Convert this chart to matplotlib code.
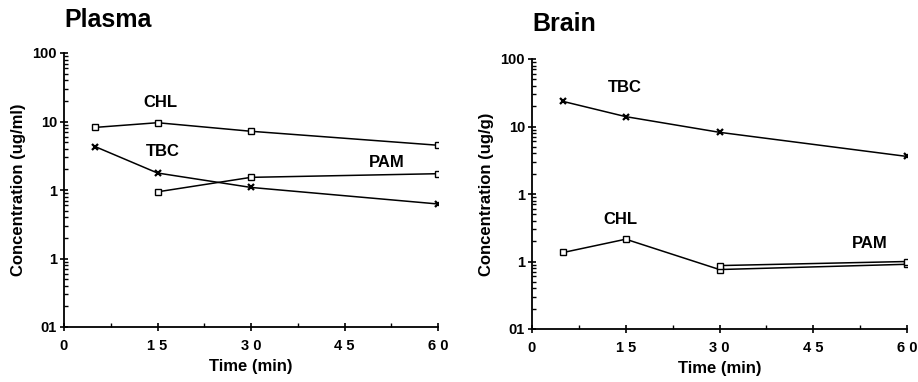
import matplotlib
matplotlib.use("Agg")
import matplotlib.pyplot as plt
from matplotlib.ticker import LogLocator, FixedLocator, NullFormatter

plt.rcParams['font.family'] = ['Liberation Sans', 'DejaVu Sans']
plt.rcParams['font.weight'] = 'bold'

# time points (min)
t_chl = [5, 15, 30, 60]
t_tbc = [5, 15, 30, 60]
t_pam_plasma = [15, 30, 60]
t_pam_brain = [30, 60]

# plasma concentrations (ug/ml)
plasma_chl = [8.2, 9.6, 7.2, 4.5]
plasma_tbc = [4.3, 1.77, 1.09, 0.625]
plasma_pam = [0.94, 1.53, 1.73]

# brain concentrations (ug/g)
brain_tbc = [23.5, 14.0, 8.2, 3.6]
brain_chl = [0.136, 0.214, 0.076, 0.091]
brain_pam = [0.087, 0.100]

ytick_vals = [0.01, 0.1, 1, 10, 100]
ytick_text = ["01", "1", "1", "10", "100"]
xtick_vals = [0, 15, 30, 45, 60]
xtick_text = ["0", "1 5", "3 0", "4 5", "6 0"]

fig = plt.figure(figsize=(9.18, 3.82), dpi=100)
W, H = 918.0, 382.0

def make_axes(left, right, top, bottom):
    return fig.add_axes([left / W, 1 - bottom / H, (right - left) / W, (bottom - top) / H])

def style(ax, ylabel, title, title_y):
    ax.set_yscale('log')
    ax.set_ylim(0.01, 100)
    ax.set_xlim(0, 60)
    for s in ['top', 'right']:
        ax.spines[s].set_visible(False)
    for s in ['left', 'bottom']:
        ax.spines[s].set_linewidth(1.3)
    ax.yaxis.set_major_locator(FixedLocator(ytick_vals))
    ax.set_yticklabels(ytick_text)
    ax.yaxis.set_minor_locator(LogLocator(base=10, subs=range(2, 10)))
    ax.yaxis.set_minor_formatter(NullFormatter())
    ax.set_xticks(xtick_vals)
    ax.set_xticklabels(xtick_text)
    ax.xaxis.set_minor_locator(FixedLocator([7.5, 22.5, 37.5, 52.5]))
    ax.tick_params(axis='both', which='major', direction='inout', length=6, width=1.2,
                   labelsize=10.5)
    ax.tick_params(axis='both', which='minor', direction='in', length=3, width=1)
    ax.tick_params(axis='y', which='major', pad=2)
    ax.tick_params(axis='x', which='major', pad=6)
    ax.set_ylabel(ylabel, fontsize=12, fontweight='bold', labelpad=5)
    ax.set_xlabel("Time (min)", fontsize=12, fontweight='bold', labelpad=4)
    ax.text(0.0, title_y, title, transform=ax.transAxes, fontsize=18,
            fontweight='bold', ha='left', va='bottom')

sq = dict(color='black', lw=1.1, marker='s', ms=4.5, mfc='white', mec='black', mew=1)
xx = dict(color='black', lw=1.1, marker='x', ms=4.5, mew=1.6)
lbl = dict(fontsize=12, fontweight='bold', ha='center', va='center')

ax1 = make_axes(64, 438, 53, 327)
ax1.plot(t_chl, plasma_chl, **sq)
ax1.plot(t_tbc, plasma_tbc, **xx)
ax1.plot(t_pam_plasma, plasma_pam, **sq)
ax1.text(15.4, 18.9, "CHL", **lbl)
ax1.text(15.9, 3.65, "TBC", **lbl)
ax1.text(51.8, 2.5, "PAM", **lbl)
style(ax1, "Concentration (ug/ml)", "Plasma", 1.075)

ax2 = make_axes(532, 907, 59, 329)
ax2.plot(t_tbc, brain_tbc, **xx)
ax2.plot(t_chl, brain_chl, **sq)
ax2.plot(t_pam_brain, brain_pam, **sq)
ax2.text(14.9, 37.8, "TBC", **lbl)
ax2.text(14.2, 0.42, "CHL", **lbl)
ax2.text(54.1, 0.187, "PAM", **lbl)
style(ax2, "Concentration (ug/g)", "Brain", 1.085)

fig.savefig("out.png", dpi=100)
